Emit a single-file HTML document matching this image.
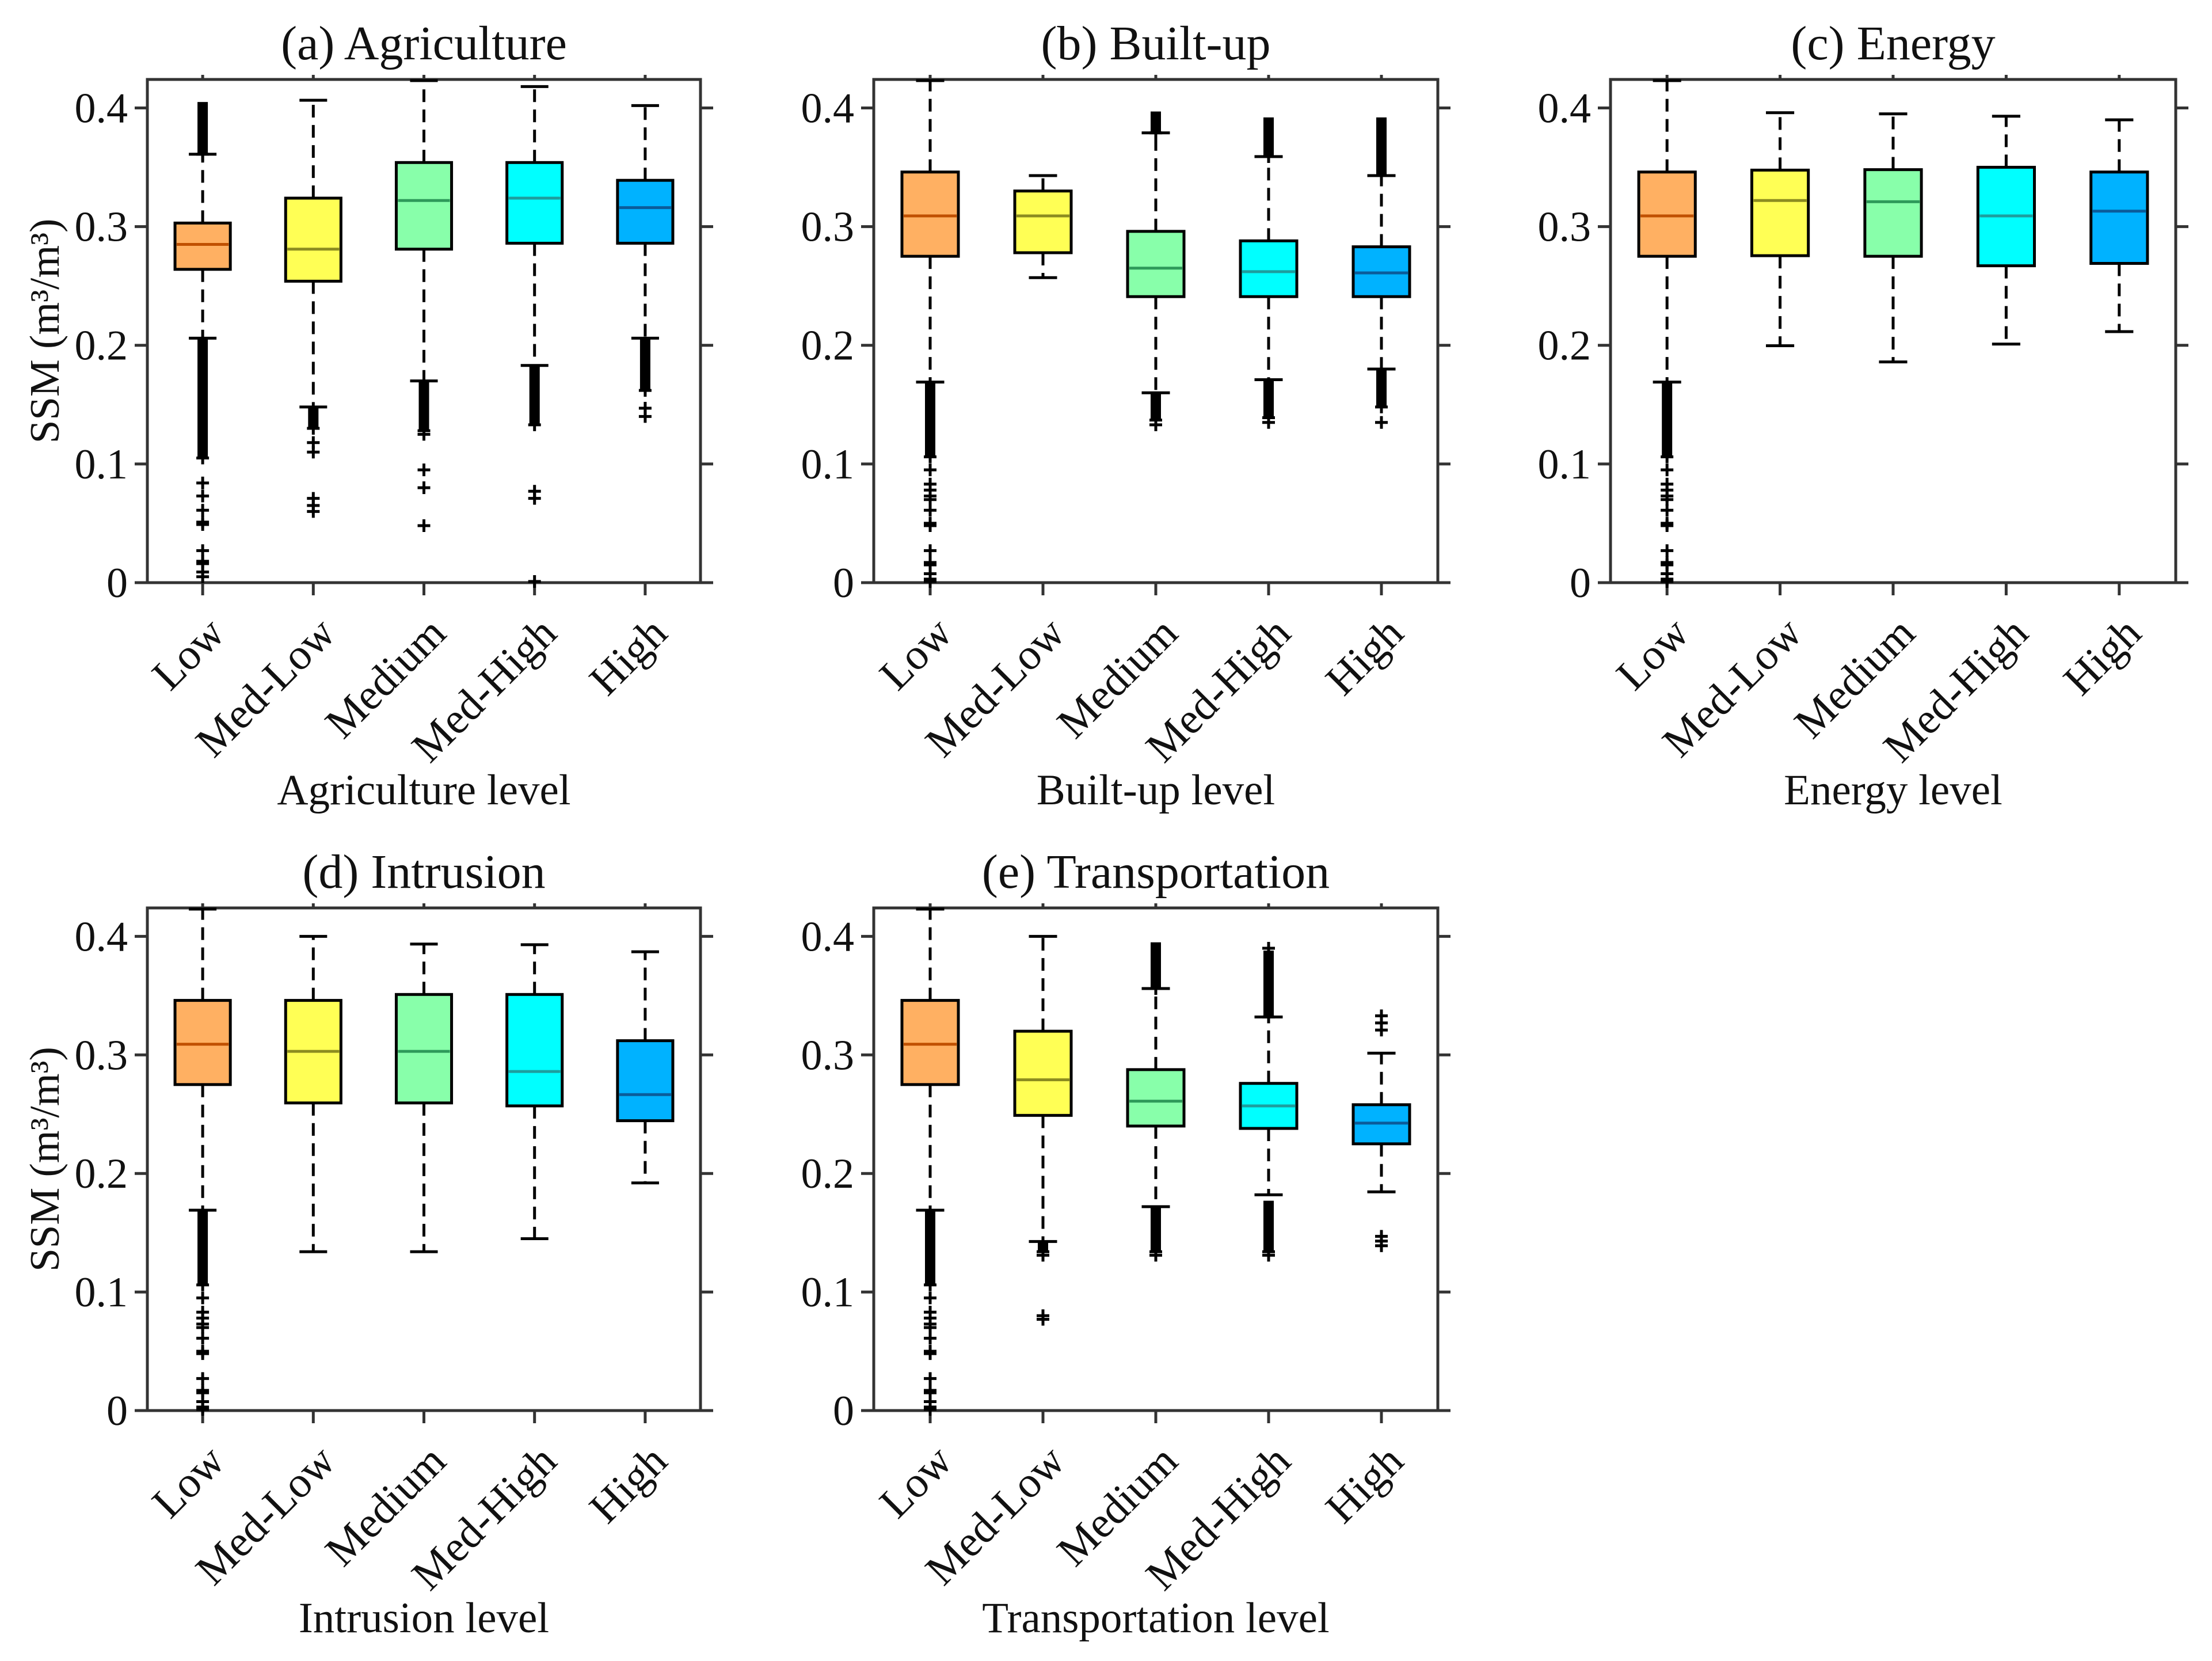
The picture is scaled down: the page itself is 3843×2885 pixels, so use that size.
<!DOCTYPE html>
<html><head><meta charset="utf-8">
<style>
html,body{margin:0;padding:0;background:#fff;}
svg{display:block;}
text{font-family:"Liberation Serif","Times New Roman",serif;fill:#111;}
</style></head>
<body>
<svg id="fig" width="3843" height="2885" viewBox="0 0 3843 2885" xmlns="http://www.w3.org/2000/svg"></svg>
<script>
// ---- shared data ----
const categories = ["Low","Med-Low","Medium","Med-High","High"];
const yTicks = [0,0.1,0.2,0.3,0.4];
const yTickLabels = ["0","0.1","0.2","0.3","0.4"];
const lowPoints = [0.095,0.083,0.078,0.073,0.070,0.061,0.048,0.050,0.027,0.017,0.015,0.0075,0.003,0.001];

// (a) Agriculture
const aQ1  = [0.264,0.254,0.281,0.286,0.286];
const aMed = [0.285,0.281,0.322,0.324,0.316];
const aQ3  = [0.303,0.324,0.354,0.354,0.339];
const aLo  = [0.206,0.148,0.170,0.183,0.206];
const aHi  = [0.361,0.4065,0.423,0.418,0.402];
const aDense = [[0,0.105,0.206],[0,0.361,0.405],[1,0.130,0.148],[2,0.128,0.170],[3,0.133,0.183],[4,0.162,0.206]];
const aPoints = [[0,0.084],[0,0.073],[0,0.061],[0,0.049],[0,0.051],[0,0.027],[0,0.016],[0,0.018],[0,0.009],[0,0.005],[1,0.118],[1,0.110],[1,0.071],[1,0.065],[1,0.060],[2,0.125],[2,0.095],[2,0.080],[2,0.048],[3,0.077],[3,0.071],[3,0.001],[4,0.147],[4,0.140]];

// (b) Built-up
const bQ1  = [0.275,0.278,0.241,0.241,0.241];
const bMed = [0.309,0.309,0.265,0.262,0.261];
const bQ3  = [0.346,0.330,0.296,0.288,0.283];
const bLo  = [0.169,0.257,0.160,0.171,0.180];
const bHi  = [0.423,0.343,0.379,0.359,0.343];
const bDense = [[0,0.106,0.169],[2,0.379,0.397],[2,0.137,0.160],[3,0.359,0.392],[3,0.139,0.171],[4,0.343,0.392],[4,0.148,0.180]];
const bPoints = [[2,0.133],[3,0.135],[4,0.135]];

// (c) Energy
const cQ1  = [0.275,0.2755,0.275,0.267,0.269];
const cMed = [0.309,0.322,0.321,0.309,0.313];
const cQ3  = [0.346,0.3476,0.348,0.350,0.346];
const cLo  = [0.169,0.1996,0.186,0.201,0.2115];
const cHi  = [0.423,0.396,0.395,0.393,0.390];
const cDense = [[0,0.106,0.169]];
const cPoints = [];

// (d) Intrusion
const dQ1  = [0.275,0.2595,0.2595,0.257,0.2445];
const dMed = [0.309,0.303,0.303,0.286,0.2665];
const dQ3  = [0.346,0.346,0.351,0.351,0.312];
const dLo  = [0.169,0.134,0.134,0.145,0.192];
const dHi  = [0.423,0.400,0.3935,0.393,0.387];
const dDense = [[0,0.106,0.169]];
const dPoints = [];

// (e) Transportation
const eQ1  = [0.275,0.249,0.240,0.238,0.225];
const eMed = [0.309,0.279,0.261,0.257,0.2425];
const eQ3  = [0.346,0.320,0.2876,0.276,0.258];
const eLo  = [0.169,0.1426,0.172,0.182,0.1845];
const eHi  = [0.423,0.400,0.356,0.332,0.3015];
const eDense = [[0,0.106,0.169],[1,0.134,0.1426],[2,0.356,0.395],[2,0.134,0.172],[3,0.332,0.388],[3,0.134,0.177]];
const ePoints = [[1,0.131],[1,0.080],[1,0.077],[2,0.131],[3,0.131],[3,0.390],[4,0.333],[4,0.327],[4,0.321],[4,0.147],[4,0.143],[4,0.139]];

const fills = ["#FFB062","#FFFF55","#88FFAA","#00FFFF","#00B2FF"];
const medCols = ["#C05000","#8C8C20","#2E9A5A","#1E9E9E","#0B5C9A"];

const NS = "http://www.w3.org/2000/svg";
const svg = document.getElementById("fig");
function el(tag, attrs, parent){
  const e = document.createElementNS(NS, tag);
  for (const k in attrs) e.setAttribute(k, attrs[k]);
  (parent||svg).appendChild(e);
  return e;
}

const panels = [
  {id:"a", title:"(a) Agriculture", xlabel:"Agriculture level", x0:256, x1:1217, top:138, zero:1012, ylab:true,
   q1:aQ1, med:aMed, q3:aQ3, lo:aLo, hi:aHi, dense:aDense, pts:aPoints, low:[]},
  {id:"b", title:"(b) Built-up", xlabel:"Built-up level", x0:1518, x1:2498, top:138, zero:1012, ylab:false,
   q1:bQ1, med:bMed, q3:bQ3, lo:bLo, hi:bHi, dense:bDense, pts:bPoints, low:lowPoints},
  {id:"c", title:"(c) Energy", xlabel:"Energy level", x0:2798, x1:3780, top:138, zero:1012, ylab:false,
   q1:cQ1, med:cMed, q3:cQ3, lo:cLo, hi:cHi, dense:cDense, pts:cPoints, low:lowPoints},
  {id:"d", title:"(d) Intrusion", xlabel:"Intrusion level", x0:256, x1:1217, top:1577, zero:2450, ylab:true,
   q1:dQ1, med:dMed, q3:dQ3, lo:dLo, hi:dHi, dense:dDense, pts:dPoints, low:lowPoints},
  {id:"e", title:"(e) Transportation", xlabel:"Transportation level", x0:1518, x1:2498, top:1577, zero:2450, ylab:false,
   q1:eQ1, med:eMed, q3:eQ3, lo:eLo, hi:eHi, dense:eDense, pts:ePoints, low:lowPoints}
];

const YMAX = 0.424;

function plus(g, x, y){
  const p = el("path", {d:`M${x-11},${y}H${x+11}M${x},${y-11}V${y+11}`, stroke:"#000","stroke-width":5,fill:"none"}, g);
  
  
}

panels.forEach(P => {
  const g = el("g", {});
  
  
  const xs = v => P.x0 + (v - 0.5) / 5 * (P.x1 - P.x0);
  const ys = v => P.zero - v / YMAX * (P.zero - P.top);
  const unit = (P.x1 - P.x0) / 5;
  const cx = (P.x0 + P.x1) / 2;

  const t = el("text", {x:cx, y:P.top - 35, "text-anchor":"middle", "font-size":84}, g);
  t.textContent = P.title;
  
  

  const box = el("rect", {x:P.x0, y:P.top, width:P.x1-P.x0, height:P.zero-P.top, fill:"none", stroke:"#333", "stroke-width":5}, g);
  
  

  yTicks.forEach((v,i) => {
    const y = ys(v);
    const tk = el("path", {d:`M${P.x0-22},${y}H${P.x0}M${P.x1},${y}H${P.x1+22}`, stroke:"#333","stroke-width":5}, g);
    
    
    const lb = el("text", {x:P.x0-34, y:y+25, "text-anchor":"end", "font-size":74}, g);
    lb.textContent = yTickLabels[i];
    
    
  });

  categories.forEach((c,i) => {
    const x = xs(i+1);
    const tk = el("path", {d:`M${x},${P.zero}V${P.zero+22}M${x},${P.top}V${P.top-8}`, stroke:"#333","stroke-width":5}, g);
    
    
    const ax = x + 42, ay = P.zero + 92;
    const lb = el("text", {x:ax, y:ay, "text-anchor":"end", "font-size":76, transform:`rotate(-45 ${ax} ${ay})`}, g);
    lb.textContent = c;
    
    
  });

  const xl = el("text", {x:cx, y:P.zero + 385, "text-anchor":"middle", "font-size":75}, g);
  xl.textContent = P.xlabel;
  
  

  if (P.ylab) {
    const my = (P.top + P.zero) / 2;
    const yl = el("text", {x:102, y:my, "text-anchor":"middle", "font-size":73, transform:`rotate(-90 102 ${my})`}, g);
    yl.textContent = "SSM (m³/m³)";
    
    
  }

  categories.forEach((c,i) => {
    const x = xs(i+1);
    const hw = unit * 0.25, cw = unit * 0.125;
    const wh = el("path", {d:`M${x},${ys(P.q3[i])}V${ys(P.hi[i])}M${x},${ys(P.q1[i])}V${ys(P.lo[i])}`, stroke:"#000","stroke-width":5,"stroke-dasharray":"22 13",fill:"none"}, g);
    
    
    const caps = el("path", {d:`M${x-cw},${ys(P.hi[i])}H${x+cw}M${x-cw},${ys(P.lo[i])}H${x+cw}`, stroke:"#000","stroke-width":5}, g);
    
    
    const r = el("rect", {x:x-hw, y:ys(P.q3[i]), width:2*hw, height:ys(P.q1[i])-ys(P.q3[i]), fill:fills[i], stroke:"#000","stroke-width":5}, g);
    
    
    const m = el("path", {d:`M${x-hw+3},${ys(P.med[i])}H${x+hw-3}`, stroke:medCols[i],"stroke-width":5}, g);
    
    
  });

  P.dense.forEach(d => {
    const x = xs(d[0]+1);
    const r = el("rect", {x:x-9, y:ys(d[2]), width:18, height:ys(d[1])-ys(d[2]), fill:"#000"}, g);
    
    
    plus(g, x, ys(d[1]));
  });
  P.pts.forEach(p => plus(g, xs(p[0]+1), ys(p[1])));
  P.low.forEach(v => plus(g, xs(1), ys(v)));
});
</script>
</body></html>
